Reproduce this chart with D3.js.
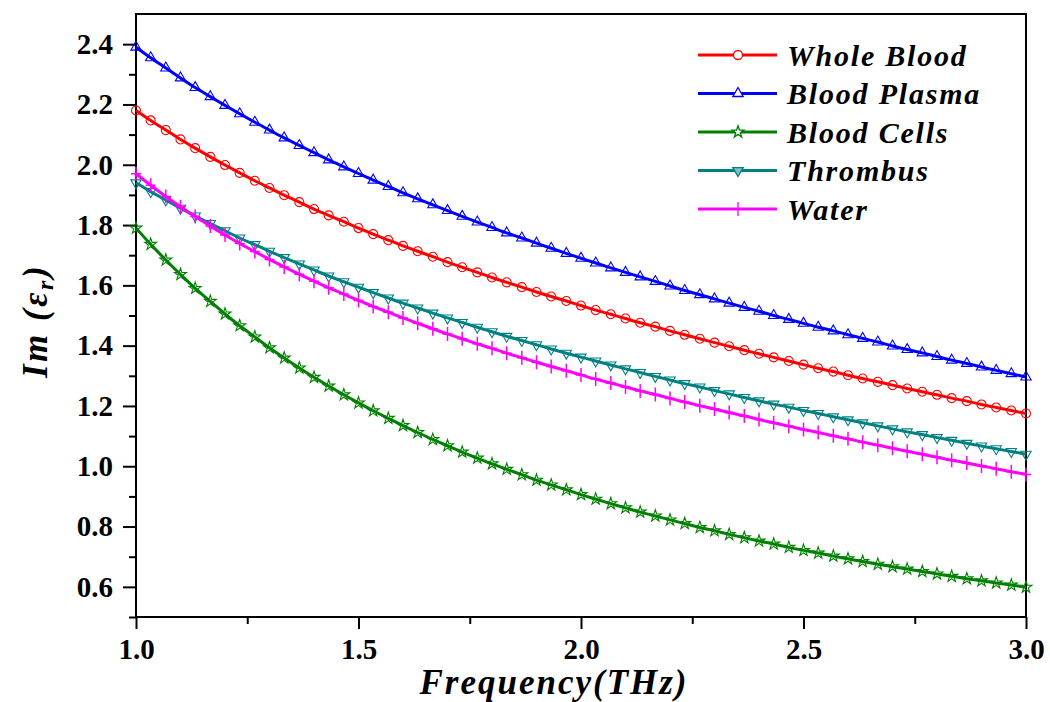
<!DOCTYPE html>
<html lang="en">
<head>
    <meta charset="UTF-8">
    <title>Im(eps_r) vs Frequency</title>
    <script src="https://d3js.org/d3.v7.min.js"></script>
    <style>
        body {
            margin: 0;
            background: #fff;
        }
        svg text {
            font-family: "Liberation Serif", "Times New Roman", serif;
            font-weight: bold;
        }
        .tick-label {
            font-size: 29px;
        }
        .axis-title {
            font-size: 35px;
            font-style: italic;
        }
        .legend-text {
            font-size: 30px;
            font-style: italic;
            letter-spacing: 1.8px;
        }
    </style>
</head>
<body>
    <div id="chart"></div>

    <script>
        // data: frequency (THz)
        const freq = [1.000, 1.033, 1.067, 1.100, 1.133, 1.167, 1.200, 1.233, 1.267, 1.300,
            1.333, 1.367, 1.400, 1.433, 1.467, 1.500, 1.533, 1.567, 1.600, 1.633,
            1.667, 1.700, 1.733, 1.767, 1.800, 1.833, 1.867, 1.900, 1.933, 1.967,
            2.000, 2.033, 2.067, 2.100, 2.133, 2.167, 2.200, 2.233, 2.267, 2.300,
            2.333, 2.367, 2.400, 2.433, 2.467, 2.500, 2.533, 2.567, 2.600, 2.633,
            2.667, 2.700, 2.733, 2.767, 2.800, 2.833, 2.867, 2.900, 2.933, 2.967, 3.000];

        const wholeBlood = [2.180, 2.147, 2.115, 2.084, 2.055, 2.026, 1.999, 1.973, 1.947, 1.923,
            1.899, 1.876, 1.853, 1.832, 1.811, 1.790, 1.770, 1.750, 1.731, 1.713,
            1.695, 1.677, 1.660, 1.643, 1.626, 1.610, 1.594, 1.578, 1.563, 1.548,
            1.533, 1.518, 1.504, 1.490, 1.476, 1.463, 1.449, 1.436, 1.423, 1.410,
            1.398, 1.385, 1.373, 1.361, 1.349, 1.337, 1.325, 1.314, 1.302, 1.291,
            1.280, 1.269, 1.258, 1.247, 1.237, 1.226, 1.216, 1.205, 1.195, 1.185, 1.175];

        const bloodPlasma = [2.390, 2.355, 2.321, 2.288, 2.256, 2.226, 2.197, 2.169, 2.141, 2.115,
            2.089, 2.064, 2.040, 2.016, 1.993, 1.971, 1.949, 1.928, 1.907, 1.887,
            1.867, 1.848, 1.829, 1.810, 1.792, 1.774, 1.757, 1.740, 1.723, 1.706,
            1.690, 1.674, 1.658, 1.643, 1.628, 1.613, 1.598, 1.583, 1.569, 1.555,
            1.541, 1.527, 1.514, 1.500, 1.487, 1.474, 1.461, 1.449, 1.436, 1.424,
            1.412, 1.399, 1.387, 1.376, 1.364, 1.352, 1.341, 1.329, 1.318, 1.307, 1.296];

        const bloodCells = [1.790, 1.736, 1.684, 1.636, 1.590, 1.547, 1.505, 1.466, 1.429, 1.393,
            1.359, 1.326, 1.295, 1.266, 1.237, 1.210, 1.184, 1.159, 1.135, 1.112,
            1.089, 1.068, 1.047, 1.027, 1.008, 0.990, 0.972, 0.954, 0.938, 0.922,
            0.906, 0.891, 0.876, 0.862, 0.848, 0.835, 0.822, 0.810, 0.797, 0.786,
            0.774, 0.763, 0.752, 0.742, 0.731, 0.721, 0.712, 0.702, 0.693, 0.684,
            0.675, 0.667, 0.659, 0.651, 0.643, 0.635, 0.627, 0.620, 0.613, 0.606, 0.599];

        const thrombus = [1.940, 1.911, 1.883, 1.856, 1.830, 1.805, 1.781, 1.757, 1.735, 1.713,
            1.692, 1.671, 1.651, 1.631, 1.612, 1.594, 1.576, 1.558, 1.541, 1.525,
            1.508, 1.492, 1.477, 1.461, 1.446, 1.431, 1.417, 1.403, 1.389, 1.375,
            1.362, 1.349, 1.336, 1.323, 1.311, 1.298, 1.286, 1.274, 1.263, 1.251,
            1.240, 1.228, 1.217, 1.206, 1.196, 1.185, 1.175, 1.164, 1.154, 1.144,
            1.134, 1.124, 1.114, 1.105, 1.095, 1.086, 1.076, 1.067, 1.058, 1.049, 1.040];

        const water = [1.970, 1.932, 1.895, 1.861, 1.828, 1.797, 1.767, 1.739, 1.712, 1.686,
            1.661, 1.637, 1.614, 1.592, 1.571, 1.550, 1.530, 1.511, 1.492, 1.474,
            1.456, 1.439, 1.423, 1.406, 1.391, 1.375, 1.360, 1.345, 1.331, 1.317,
            1.303, 1.289, 1.276, 1.263, 1.250, 1.238, 1.225, 1.213, 1.201, 1.190,
            1.178, 1.167, 1.155, 1.144, 1.133, 1.122, 1.112, 1.101, 1.091, 1.080,
            1.070, 1.060, 1.050, 1.040, 1.030, 1.020, 1.011, 1.001, 0.992, 0.982, 0.973];

        // ticks
        const xTicks = [1.0, 1.5, 2.0, 2.5, 3.0];
        const xMinorTicks = [1.25, 1.75, 2.25, 2.75];
        const yTicks = [0.6, 0.8, 1.0, 1.2, 1.4, 1.6, 1.8, 2.0, 2.2, 2.4];
        const yMinorTicks = [0.5, 0.7, 0.9, 1.1, 1.3, 1.5, 1.7, 1.9, 2.1, 2.3];

        const series = [
            { name: "Whole Blood", values: wholeBlood, color: "#ff0000", marker: "circle" },
            { name: "Blood Plasma", values: bloodPlasma, color: "#0000ff", marker: "triangle" },
            { name: "Blood Cells", values: bloodCells, color: "#008000", marker: "star" },
            { name: "Thrombus", values: thrombus, color: "#008080", marker: "triangleDown" },
            { name: "Water", values: water, color: "#ff00ff", marker: "plus" }
        ];

        // layout
        const margin = {top: 14, right: 24, bottom: 85, left: 136};
        const width = 1050 - margin.left - margin.right;
        const height = 702 - margin.top - margin.bottom;

        const svg = d3.select("#chart")
            .append("svg")
            .attr("width", 1050)
            .attr("height", 702)
            .append("g")
            .attr("transform", `translate(${margin.left},${margin.top})`);

        const x = d3.scaleLinear().domain([1, 3]).range([0, width]);
        const y = d3.scaleLinear().domain([0.5, 2.5]).range([height, 0]);

        // axes
        svg.append("g")
            .attr("transform", `translate(0,${height})`)
            .call(d3.axisBottom(x).tickValues(xTicks).tickSize(12).tickPadding(9).tickFormat(d3.format(".1f")));
        svg.append("g")
            .attr("transform", `translate(0,${height})`)
            .call(d3.axisBottom(x).tickValues(xMinorTicks).tickSize(7).tickFormat(""));

        svg.append("g")
            .call(d3.axisLeft(y).tickValues(yTicks).tickSize(13).tickPadding(10).tickFormat(d3.format(".1f")));
        svg.append("g")
            .call(d3.axisLeft(y).tickValues(yMinorTicks).tickSize(7).tickFormat(""));

        svg.selectAll(".domain").remove();
        svg.selectAll(".tick line").attr("stroke", "#000").attr("stroke-width", 2);
        svg.selectAll(".tick text").attr("class", "tick-label").attr("fill", "#000");

        // frame
        svg.append("rect")
            .attr("x", 0)
            .attr("y", 0)
            .attr("width", width)
            .attr("height", height)
            .attr("fill", "none")
            .attr("stroke", "#000")
            .attr("stroke-width", 2);

        // markers
        function markerPath(type) {
            if (type === "circle") return d3.symbol(d3.symbolCircle, 64)();
            if (type === "triangle") return d3.symbol(d3.symbolTriangle, 46)();
            if (type === "triangleDown") return d3.symbol(d3.symbolTriangle, 46)();
            if (type === "star") return d3.symbol(d3.symbolStar, 44)();
            return "M0,-7V7M-5,0H5";
        }

        const line = d3.line()
            .x((d, i) => x(freq[i]))
            .y(d => y(d))
            .curve(d3.curveMonotoneX);

        series.forEach(s => {
            const g = svg.append("g");
            g.append("path")
                .datum(s.values)
                .attr("fill", "none")
                .attr("stroke", s.color)
                .attr("stroke-width", 3)
                .attr("d", line);

            g.selectAll(".mk")
                .data(s.values)
                .enter()
                .append("path")
                .attr("class", "mk")
                .attr("d", markerPath(s.marker))
                .attr("transform", (d, i) => `translate(${x(freq[i])},${y(d)})` + (s.marker === "triangleDown" ? " rotate(180)" : ""))
                .attr("fill", "none")
                .attr("stroke", s.color)
                .attr("stroke-width", s.marker === "plus" ? 1.5 : 1.1);
        });

        // legend
        const legend = svg.append("g")
            .attr("transform", `translate(${698 - margin.left}, ${55 - margin.top})`);

        series.forEach((s, i) => {
            const row = legend.append("g").attr("transform", `translate(0, ${i * 38.5})`);
            row.append("line")
                .attr("x1", 0)
                .attr("x2", 79)
                .attr("stroke", s.color)
                .attr("stroke-width", 3);
            row.append("path")
                .attr("d", markerPath(s.marker))
                .attr("transform", "translate(40,0)" + (s.marker === "triangleDown" ? " rotate(180)" : ""))
                .attr("fill", s.marker === "triangleDown" ? "#80c0c0" : (s.marker === "plus" ? "none" : "#fff"))
                .attr("stroke", s.color)
                .attr("stroke-width", 1.3);
            row.append("text")
                .attr("class", "legend-text")
                .attr("x", 89)
                .attr("y", 10.5)
                .text(s.name);
        });

        // axis titles
        svg.append("text")
            .attr("class", "axis-title")
            .attr("x", 554 - margin.left)
            .attr("y", 694 - margin.top)
            .attr("text-anchor", "middle")
            .attr("letter-spacing", "2px")
            .text("Frequency(THz)");

        const yTitle = svg.append("text")
            .attr("class", "axis-title")
            .attr("font-size", "37px")
            .attr("letter-spacing", "2.5px")
            .attr("transform", `translate(${47 - margin.left},${321 - margin.top}) rotate(-90)`)
            .attr("text-anchor", "middle");
        yTitle.append("tspan").text("Im (ε");
        yTitle.append("tspan").attr("font-size", "24px").attr("dy", 6).text("r");
        yTitle.append("tspan").attr("dy", -6).text(")");
    </script>
</body>
</html>
